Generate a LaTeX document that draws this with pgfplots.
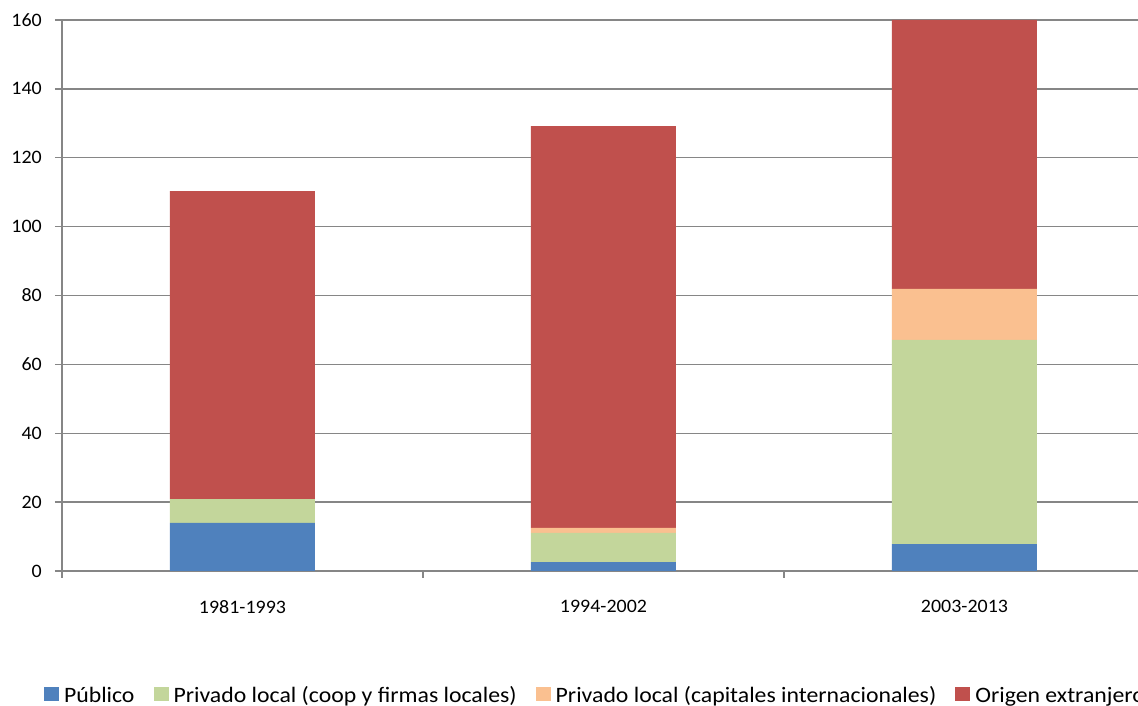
\documentclass[border=0pt]{standalone}
\usepackage{pgfplots}
\pgfplotsset{compat=1.18}
\usepackage{fontspec}
\setmainfont{Carlito}
\newfontfamily\legfont[FakeStretch=1.08]{Carlito}
\newfontfamily\tickfont[FakeStretch=1.05]{Carlito}
\definecolor{cblue}{HTML}{4F81BD}
\definecolor{cgreen}{HTML}{C3D69B}
\definecolor{corange}{HTML}{FAC090}
\definecolor{cred}{HTML}{C0504D}
\definecolor{cgrid}{HTML}{868686}
\begin{document}
\begin{tikzpicture}[x=1pt,y=1pt]
\path[use as bounding box] (0,0) rectangle (1138,706);
\begin{axis}[
  at={(62pt,135pt)}, anchor=south west,
  scale only axis, width=1083pt, height=551pt,
  ybar stacked, bar width=145pt,
  xmin=-0.5, xmax=2.5, ymin=0, ymax=160,
  axis x line*=bottom, axis y line*=left,
  axis line style={draw=cgrid, line width=1.3pt},
  xtick={-0.5,0.5,1.5,2.5}, xticklabels={,,,},
  extra x ticks={0,1,2},
  extra x tick labels={1981-1993,1994-2002,2003-2013},
  extra x tick style={major tick length=0pt},
  ytick={0,20,...,160},
  ymajorgrids, grid style={draw=cgrid, line width=1.3pt},
  tick align=outside, major tick length=7pt,
  tick style={draw=cgrid, line width=1.3pt},
  /pgf/number format/assume math mode=true,
  x tick label style={font=\tickfont\fontsize{19}{22}\selectfont, anchor=north, inner sep=0pt, yshift=-29pt},
  y tick label style={font=\tickfont\fontsize{19}{22}\selectfont, anchor=east, inner sep=0pt, xshift=-13pt},
  legend style={font=\legfont\fontsize{22}{26}\selectfont, draw=none, fill=none,
    inner sep=0pt, outer sep=0pt, nodes={inner sep=0pt},
    legend columns=-1,
    /tikz/every odd column/.append style={column sep=5pt},
    /tikz/every even column/.append style={column sep=19pt},
    at={(-0.0166,-0.242)}, anchor=south west},
  legend image code/.code={\fill[#1] (0pt,-5pt) rectangle (15pt,9pt);},
  legend cell align=left,
  clip=true,
]
\addplot[fill=cblue, draw=none] coordinates {(0,14.0) (1,2.6) (2,7.8)};
\addplot[fill=cgreen, draw=none] coordinates {(0,6.9) (1,8.5) (2,59.3)};
\addplot[fill=corange, draw=none] coordinates {(0,0) (1,1.4) (2,14.8)};
\addplot[fill=cred, draw=none] coordinates {(0,89.4) (1,116.7) (2,78.1)};
\legend{Público, Privado local (coop y firmas locales), Privado local (capitales internacionales), Origen extranjero}
\end{axis}
\end{tikzpicture}
\end{document}
